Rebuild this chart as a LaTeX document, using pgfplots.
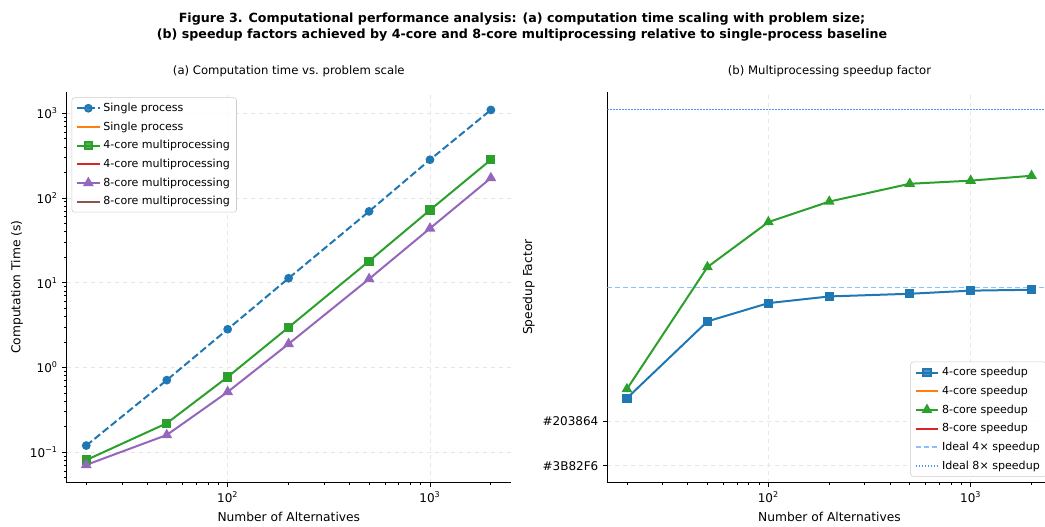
\documentclass[border=0pt]{standalone}
\usepackage{fontspec}
\setmainfont{DejaVu Sans}
\usepackage{pgfplots}
\pgfplotsset{compat=1.18}
\definecolor{C0}{HTML}{1F77B4}
\definecolor{C1}{HTML}{FF7F0E}
\definecolor{C2}{HTML}{2CA02C}
\definecolor{C3}{HTML}{D62728}
\definecolor{C4}{HTML}{9467BD}
\definecolor{C5}{HTML}{8C564B}
\definecolor{IdealA}{RGB}{140,192,252}
\definecolor{IdealB}{RGB}{80,145,245}
\definecolor{gridc}{HTML}{E6E6E6}
\pgfplotstableread{
x single four eight
20 0.12 0.081 0.071
50 0.71 0.22 0.16
100 2.83 0.774 0.515
200 11.3 2.98 1.90
500 69.5 18.0 11.1
1000 283 72.1 43.8
2000 1094 283 172
}\timetab
\pgfplotstableread{
x four eight
20 1.515 1.72
50 3.24 4.46
100 3.65 5.47
200 3.80 5.93
500 3.86 6.33
1000 3.93 6.40
2000 3.95 6.51
}\speedtab
\pgfplotstableread{
x four eight
16 4 8
2600 4 8
}\idealtab
\pgfplotsset{
  mystyle/.style={
    scale only axis, width=333.2pt, height=293.3pt,
    axis x line*=bottom, axis y line*=left,
    axis line style={line width=0.7pt, black},
    tick align=outside,
    major tick length=3.2pt, minor tick length=1.8pt,
    every tick/.style={black, line width=0.6pt},
    grid=major, major grid style={dashed, color=gridc, line width=0.5pt},
    tick label style={font=\fontsize{9}{10}\selectfont},
    label style={font=\fontsize{9.2}{11}\selectfont},
    title style={font=\fontsize{8.75}{10}\selectfont, at={(axis description cs:0.5,1.031)}, anchor=center},
    xlabel style={at={(axis description cs:0.5,-0.0877)}, anchor=center},
    legend cell align=left,
    legend style={font=\fontsize{8.3}{9.5}\selectfont, draw=black!20, rounded corners=2pt,
      fill=white, fill opacity=0.8, text opacity=1, row sep=2.2pt, inner xsep=3pt, inner ysep=2pt},
  }
}
\begin{document}
\begin{tikzpicture}
\useasboundingbox (0,0) rectangle (783.75pt,-395.25pt);
\node[font=\fontsize{9.5}{11}\selectfont\bfseries] at (391.5pt,-14.6pt) {Figure 3. Computational performance analysis: (a) computation time scaling with problem size;};
\node[font=\fontsize{9.5}{11}\selectfont\bfseries] at (391.5pt,-26.4pt) {(b) speedup factors achieved by 4-core and 8-core multiprocessing relative to single-process baseline};

\begin{axis}[mystyle, at={(50pt,-362pt)}, anchor=south west,
  xmode=log, ymode=log, xmin=16, xmax=2513, ymin=0.0438, ymax=1800,
  xtick={100,1000}, xticklabels={10\textsuperscript{2},10\textsuperscript{3}},
  minor xtick={20,30,40,50,60,70,80,90,200,300,400,500,600,700,800,900,2000},
  ytick={0.1,1,10,100,1000},
  yticklabels={10\textsuperscript{−1},10\textsuperscript{0},10\textsuperscript{1},10\textsuperscript{2},10\textsuperscript{3}},
  minor ytick={0.05,0.06,0.07,0.08,0.09,0.2,0.3,0.4,0.5,0.6,0.7,0.8,0.9,2,3,4,5,6,7,8,9,20,30,40,50,60,70,80,90,200,300,400,500,600,700,800,900},
  title={(a) Computation time vs.\ problem scale},
  xlabel={Number of Alternatives},
  ylabel={Computation Time (s)},
  ylabel style={at={(axis description cs:-0.112,0.5)}, anchor=center},
  legend style={at={(axis description cs:0.0113,0.985)}, anchor=north west},
]
\addplot[color=C0, line width=1.5pt, dash pattern=on 5.5pt off 2.4pt, mark=*, mark size=2.5pt, mark options={solid}] table[x=x,y=single]{\timetab};
\addlegendentry{Single process}
\addlegendimage{color=C1, line width=1.5pt}
\addlegendentry{Single process}
\addplot[color=C2, line width=1.5pt, mark=square*, mark size=2.7pt] table[x=x,y=four]{\timetab};
\addlegendentry{4-core multiprocessing}
\addlegendimage{color=C3, line width=1.5pt}
\addlegendentry{4-core multiprocessing}
\addplot[color=C4, line width=1.5pt, mark=triangle*, mark size=3.2pt] table[x=x,y=eight]{\timetab};
\addlegendentry{8-core multiprocessing}
\addlegendimage{color=C5, line width=1.5pt}
\addlegendentry{8-core multiprocessing}
\end{axis}

\begin{axis}[mystyle, at={(455.5pt,-362pt)}, anchor=south west,
  xmode=log, xmin=16, xmax=2513, ymin=-0.382, ymax=8.40,
  xtick={100,1000}, xticklabels={10\textsuperscript{2},10\textsuperscript{3}},
  minor xtick={20,30,40,50,60,70,80,90,200,300,400,500,600,700,800,900,2000},
  ytick={0,1}, yticklabels={\#3B82F6,\#203864},
  title={(b) Multiprocessing speedup factor},
  xlabel={Number of Alternatives},
  ylabel={Speedup Factor},
  ylabel style={at={(axis description cs:-0.1767,0.5)}, anchor=center},
  legend style={at={(axis description cs:0.989,0.0153)}, anchor=south east},
]
\addplot[draw=IdealA, color=IdealA, line width=1.35pt, dash pattern=on 3.7pt off 2.3pt, mark=none, forget plot] table[x=x,y=four]{\idealtab};
\addplot[draw=IdealB, color=IdealB, line width=1.35pt, dash pattern=on 1.1pt off 1.15pt, mark=none, forget plot] table[x=x,y=eight]{\idealtab};
\addplot[color=C0, line width=1.5pt, mark=square*, mark size=2.7pt] table[x=x,y=four]{\speedtab};
\addlegendentry{4-core speedup}
\addlegendimage{color=C1, line width=1.5pt}
\addlegendentry{4-core speedup}
\addplot[color=C2, line width=1.5pt, mark=triangle*, mark size=3.2pt] table[x=x,y=eight]{\speedtab};
\addlegendentry{8-core speedup}
\addlegendimage{color=C3, line width=1.5pt}
\addlegendentry{8-core speedup}
\addlegendimage{draw=IdealA, line width=1.35pt, dash pattern=on 3.7pt off 2.3pt}
\addlegendentry{Ideal 4× speedup}
\addlegendimage{draw=IdealB, line width=1.35pt, dash pattern=on 1.1pt off 1.15pt}
\addlegendentry{Ideal 8× speedup}
\end{axis}
\end{tikzpicture}
\end{document}
